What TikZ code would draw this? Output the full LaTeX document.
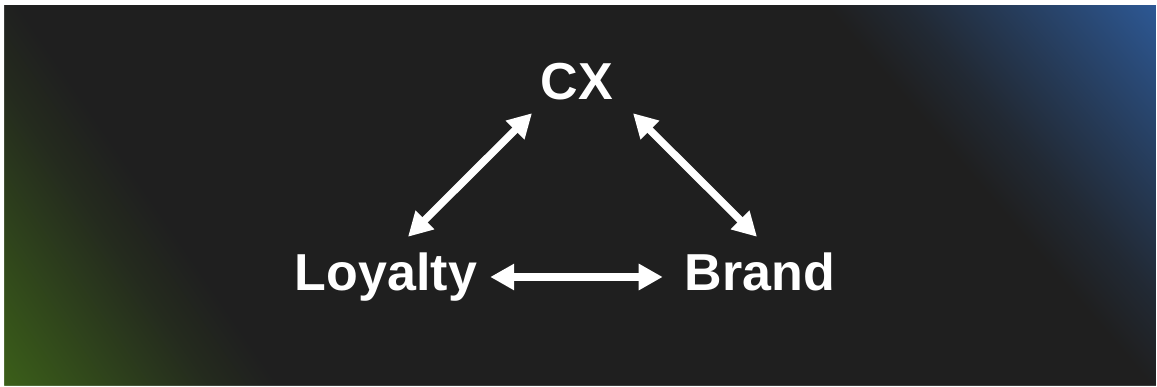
\documentclass[tikz,border=0pt]{standalone}
\usepackage{fontspec}
\setmainfont{Liberation Sans}
\usetikzlibrary{arrows.meta}
\definecolor{panel}{HTML}{1F1F1F}
\definecolor{glowblue}{HTML}{2D5894}
\definecolor{glowgreen}{HTML}{3B5F19}
\pgfdeclarehorizontalshading{blueglow}{1600bp}{color(0bp)=(panel);
  color(60bp)=(glowblue!18!panel); color(125bp)=(glowblue!45!panel);
  color(190bp)=(glowblue!73!panel); color(250bp)=(glowblue)}
\pgfdeclarehorizontalshading{greenglow}{1600bp}{color(0bp)=(panel);
  color(56bp)=(glowgreen!18!panel); color(113bp)=(glowgreen!45!panel);
  color(170bp)=(glowgreen!73!panel); color(226bp)=(glowgreen)}

\begin{document}
\begin{tikzpicture}[x=1pt,y=1pt,
  term/.style={text=white,font=\fontsize{52}{60}\selectfont\bfseries,
    inner sep=0pt,text height=38pt,text depth=0pt,anchor=base},
  glow/.style={inner sep=0pt,anchor=east},
  dbl/.style={white,line width=7.5pt,
    {Triangle[length=24pt,width=25pt]}-{Triangle[length=24pt,width=25pt]}}]
  \useasboundingbox (0,0) rectangle (1157,387);
  % Hintergrund mit Farbverlauf
  \fill[panel] (4,1) rectangle (1156,382);
  \node[glow,rotate=40.6] (glowb) at (1156,382) {\pgfuseshading{blueglow}};
  \node[glow,rotate=214.5] (glowg) at (4,1) {\pgfuseshading{greenglow}};
  % Rahmen
  \fill[white,even odd rule] (-20,-20) rectangle (1177,407) (4,1) rectangle (1156,382);
  % Begriffe
  \node[term] (cx) at (577,287) {CX};
  \node[term] (loy) at (386,96) {Loyalty};
  \node[term] (brand) at (760,96) {Brand};
  % Pfeile
  \draw[dbl] ([xshift=22pt,yshift=16pt]loy.north) -- ([xshift=-45pt,yshift=-13pt]cx.south);
  \draw[dbl] ([xshift=56pt,yshift=-13pt]cx.south) -- ([xshift=-3pt,yshift=16pt]brand.north);
  \draw[dbl] ([xshift=13pt,yshift=-5pt]loy.east) -- ([xshift=-22pt,yshift=-5pt]brand.west);
\end{tikzpicture}
\end{document}
